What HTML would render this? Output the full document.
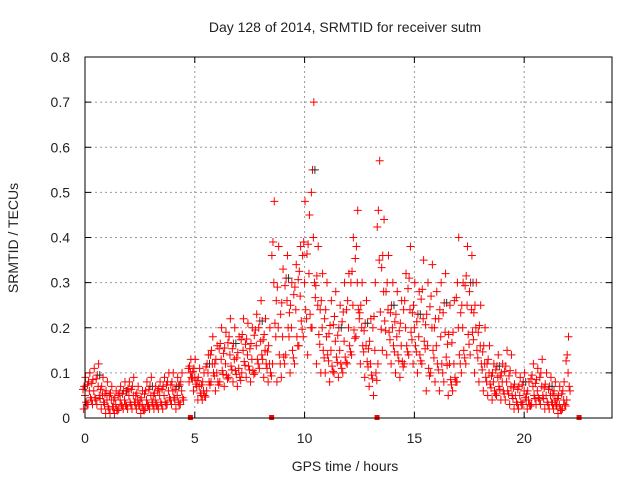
<!DOCTYPE html>
<html><head><meta charset="utf-8"><style>
body{margin:0;background:#fff}
svg text{font-family:"Liberation Sans",sans-serif;fill:#222}
</style></head><body>
<svg id="chart" width="640" height="480">
<text x="345" y="32" font-size="14" text-anchor="middle">Day 128 of 2014, SRMTID for receiver sutm</text>
<text x="18" y="238" font-size="14" text-anchor="middle" transform="rotate(-90 18 238)">SRMTID / TECUs</text>
<text x="345" y="471" font-size="14" text-anchor="middle">GPS time / hours</text>
<g id="grid"></g>
<g id="ticks"></g>
<g id="marks"></g>
<rect x="85" y="57" width="527" height="361" fill="none" stroke="#000"/>
</svg>
<script>
const hours=[0,0.2,0.4,0.6,0.8,1.0,1.2,1.4,1.6,1.8,2.0,2.2,2.4,2.6,2.8,3.0,3.2,3.4,3.6,3.8,4.0,4.2,4.4,
4.8,5.0,5.2,5.4,5.6,5.8,6.0,6.2,6.4,6.6,6.8,7.0,7.2,7.4,7.6,7.8,8.0,8.2,8.4,
8.6,8.8,9.0,9.2,9.4,9.6,9.8,10.0,10.2,10.4,10.6,10.8,
11.0,11.2,11.4,11.6,11.8,12.0,12.2,12.4,12.6,12.8,13.0,
13.2,13.4,13.6,13.8,14.0,14.2,14.4,14.6,14.8,15.0,
15.2,15.4,15.6,15.8,16.0,16.2,16.4,16.6,16.8,17.0,
17.2,17.4,17.6,17.8,18.0,18.2,18.4,18.6,18.8,19.0,
19.2,19.4,19.6,19.8,20.0,20.2,20.4,20.6,20.8,21.0,
21.2,21.4,21.6,21.8,22.0];
const highVals=[.09,.10,.11,.12,.09,.08,.07,.06,.07,.08,.08,.09,.07,.06,.08,.09,.07,.08,.09,.10,.10,.09,.10,
.13,.13,.11,.10,.14,.18,.16,.20,.19,.22,.20,.18,.22,.21,.20,.23,.26,.22,.20,
.48,.38,.33,.36,.30,.34,.38,.48,.45,.70,.38,.32,
.30,.26,.28,.25,.30,.32,.40,.46,.30,.26,.22,
.30,.57,.44,.36,.30,.28,.26,.32,.38,.30,
.28,.35,.30,.34,.28,.30,.32,.25,.26,.40,
.30,.38,.36,.30,.25,.20,.16,.12,.14,.12,
.15,.14,.10,.09,.10,.08,.12,.11,.13,.10,
.09,.08,.07,.08,.18];
const midVals=[.05,.06,.06,.07,.05,.04,.04,.03,.04,.04,.05,.05,.04,.03,.04,.05,.04,.05,.05,.06,.06,.05,.06,
.10,.09,.07,.06,.10,.12,.10,.13,.12,.14,.13,.11,.15,.14,.13,.16,.17,.15,.12,
.30,.20,.18,.26,.20,.24,.27,.30,.32,.40,.25,.20,
.18,.15,.17,.15,.17,.20,.25,.30,.20,.16,.12,
.15,.35,.28,.24,.20,.18,.16,.20,.24,.20,
.18,.22,.16,.20,.16,.18,.19,.12,.12,.20,
.20,.25,.24,.20,.16,.12,.10,.08,.09,.08,
.08,.07,.05,.05,.06,.04,.07,.06,.07,.05,
.05,.04,.03,.04,.10];
const lowVals=[.02,.03,.03,.03,.02,.01,.01,.01,.02,.02,.02,.02,.02,.01,.02,.02,.02,.02,.02,.03,.03,.02,.03,
.08,.06,.04,.04,.06,.08,.06,.08,.07,.09,.08,.07,.10,.09,.08,.10,.11,.09,.08,
.12,.08,.09,.14,.10,.12,.16,.18,.14,.20,.12,.10,
.10,.08,.10,.09,.10,.12,.14,.18,.12,.09,.07,
.05,.12,.15,.14,.12,.10,.09,.12,.14,.12,
.10,.12,.06,.10,.08,.06,.08,.05,.06,.08,
.10,.12,.14,.10,.08,.06,.05,.04,.05,.04,
.04,.03,.02,.02,.03,.02,.03,.03,.03,.02,
.02,.02,.01,.02,.04];
const gapHours=[4.8,8.5,13.3,22.5];
const xTicks=[0,5,10,15,20];
const yTicks=[0,0.1,0.2,0.3,0.4,0.5,0.6,0.7,0.8];

const NS='http://www.w3.org/2000/svg';
const X0=85,X1=612,Y0=418,Y1=57;
const xs=h=>X0+h/24*(X1-X0);
const ys=v=>Y0-v/0.8*(Y0-Y1);
function mk(tag,attrs,parent){const e=document.createElementNS(NS,tag);for(const k in attrs)e.setAttribute(k,attrs[k]);parent.appendChild(e);return e;}
const grid=document.getElementById('grid'),ticks=document.getElementById('ticks'),marks=document.getElementById('marks');
yTicks.forEach(v=>{
  const y=ys(v);
  if(v>0&&v<0.8){const g=mk('line',{x1:X0,x2:X1,y1:y,y2:y,stroke:'#999','stroke-dasharray':'2,3'},grid);
  
  }
  mk('line',{x1:X0,x2:X0+6,y1:y,y2:y,stroke:'#000'},ticks);
  mk('line',{x1:X1,x2:X1-6,y1:y,y2:y,stroke:'#000'},ticks);
  const t=mk('text',{x:70,y:y+5,'font-size':14,'text-anchor':'end'},ticks);
  t.textContent=v===0?'0':v.toFixed(1);
  
  
});
xTicks.forEach(h=>{
  const x=xs(h);
  if(h>0){const g=mk('line',{x1:x,x2:x,y1:Y0,y2:Y1,stroke:'#999','stroke-dasharray':'2,3'},grid);
  
  }
  mk('line',{x1:x,x2:x,y1:Y0,y2:Y0-6,stroke:'#000'},ticks);
  mk('line',{x1:x,x2:x,y1:Y1,y2:Y1+6,stroke:'#000'},ticks);
  const t=mk('text',{x:x,y:443,'font-size':14,'text-anchor':'middle'},ticks);
  t.textContent=h;
  
  
});
function plus(h,v,color){
  const x=xs(h),y=ys(v);
  const p=mk('path',{d:`M${x-4},${y}h8M${x},${y-4}v8`,stroke:color,'stroke-width':1},marks);
  
  
}
hours.forEach((h,i)=>{
  const lo=lowVals[i],mi=midVals[i],hi=highVals[i];
  const vals=[lo,(lo+mi)/2,mi,(mi+hi)/2,hi,(lo*2+mi)/3,(mi*2+hi)/3];
  const offs=[-0.06,0.05,0,-0.04,0.02,0.09,-0.09];
  vals.forEach((v,k)=>plus(h+offs[k],v,'#f00'));
  if(i%6===3)plus(h+0.07,(mi+hi)/2,'#333');
});
gapHours.forEach(h=>{
  const r=mk('rect',{x:xs(h)-2.5,y:Y0-3,width:5,height:5,fill:'#f00'},marks);
  
  
});
</script>
</body></html>
